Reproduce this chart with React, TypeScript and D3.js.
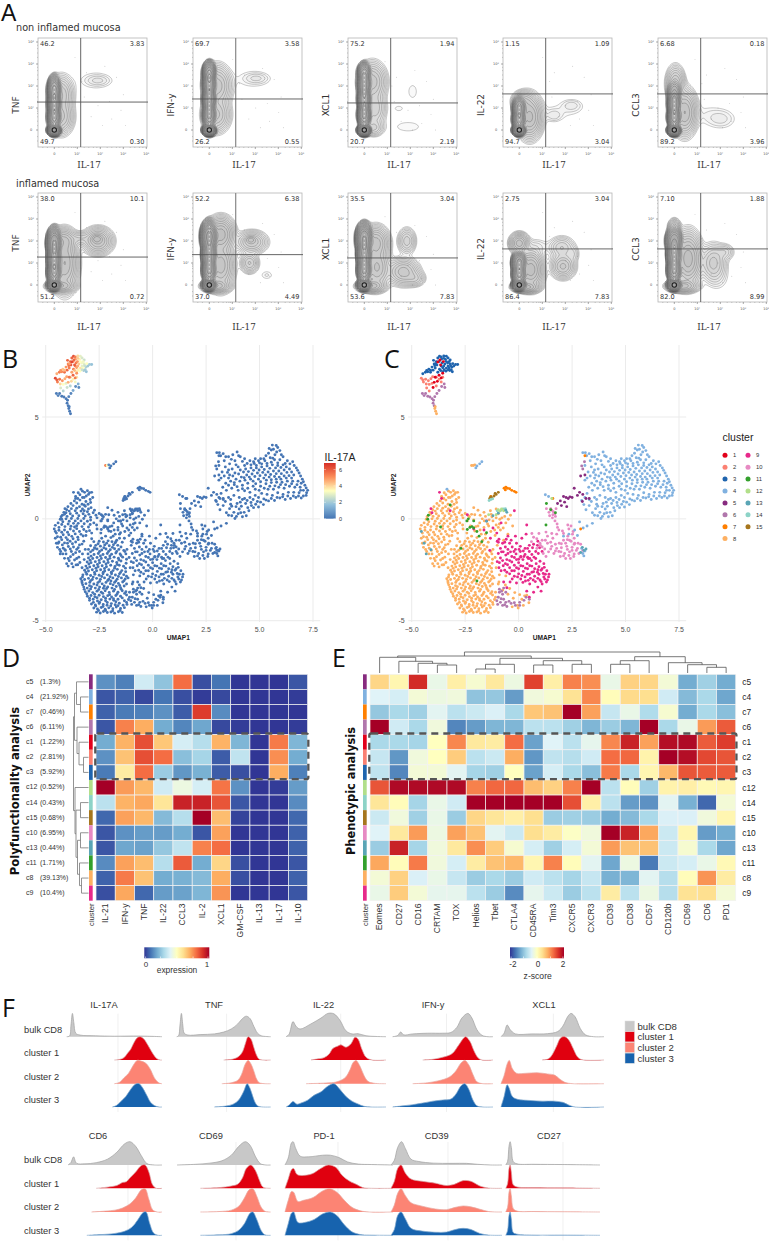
import * as d3 from 'd3';

// ---------- panel A: gating values ----------
const flowMarkers = ['TNF', 'IFN-y', 'XCL1', 'IL-22', 'CCL3'];
const flowBoxLefts = [38, 193, 348, 503, 658];
const flowTopTitle = 'non inflamed mucosa';
const flowBottomTitle = 'inflamed mucosa';
const flowQuadRest = [['46.2', '3.83', '49.7', '0.30'], ['69.7', '3.58', '26.2', '0.55'], ['75.2', '1.94', '20.7', '2.19'], ['1.15', '1.09', '94.7', '3.04'], ['6.68', '0.18', '89.2', '3.96']];
const flowQuadInfl = [['38.0', '10.1', '51.2', '0.72'], ['52.2', '6.38', '37.0', '4.49'], ['35.5', '3.04', '53.6', '7.83'], ['2.75', '3.04', '86.4', '7.83'], ['7.10', '1.88', '82.0', '8.99']];
const flowGateRest = [1.27, 1.41, 1.23, 1.64, 1.64];
const flowGateInfl = [1.27, 1.38, 1.23, 1.64, 1.64];
const flowColumnTop = [[2.1, 2.8, 2.7, 1.2, 1.4], [2.1, 2.8, 2.3, 1.1, 1.9]];
// density lobes as [log x, log y, spread x, spread y, weight]
type Blob = number[];
const tnfRest: Blob[] = [[0, 0, .15, .14, 14], [0, .6, .15, .3, 6], [0, 1.2, .15, .35, 6], [0, 1.8, .15, .35, 6], [.3, .6, .4, .6, .35], [.3, 1.6, .4, .65, .3], [1.75, 2.25, .62, .35, .016], [1.9, 2.25, .3, .14, .035]];
const ifnRest: Blob[] = [[0, 0, .15, .14, 14], [0, .7, .15, .32, 6], [0, 1.4, .15, .35, 6], [0, 2.1, .15, .35, 7], [0, 2.6, .15, .28, 5], [.3, .7, .45, .6, .35], [.35, 2, .45, .7, .4], [1.85, 2.3, .65, .35, .016], [2.05, 2.35, .3, .14, .035]];
const xclRest: Blob[] = [[0, 0, .15, .14, 14], [0, .7, .15, .32, 6], [0, 1.4, .15, .35, 5], [0, 2.1, .15, .35, 6], [0, 2.6, .15, .25, 4], [.35, 2.2, .45, .65, .4], [.45, 1, .38, .65, .2], [.4, .1, .35, .3, .15], [2.1, 1.75, .18, .3, .018], [1.9, .15, .6, .25, .016], [1.5, .98, .2, .13, .016]];
const il22Rest: Blob[] = [[0, 0, .15, .14, 14], [0, .5, .15, .25, 7], [0, 1, .15, .28, 6], [.45, .6, .4, .7, .8], [.15, 1.3, .35, .35, .3], [1.5, .65, .22, .17, .03], [2.28, 1.13, .28, .17, .03], [1.85, .85, .75, .3, .014]];
const ccl3Rest: Blob[] = [[0, 0, .15, .14, 14], [0, .6, .15, .28, 7], [0, 1.2, .15, .33, 6], [0, 1.7, .16, .3, 2], [.05, 2.1, .3, .6, .35], [.45, .8, .38, .75, .7], [2.05, .5, .4, .28, .03], [1.4, .7, .5, .35, .014]];
const tnfInfl: Blob[] = [[0, 0, .16, .14, 14], [0, .6, .16, .3, 6], [0, 1.2, .16, .38, 6], [0, 1.9, .17, .38, 8], [.3, -.05, .45, .2, .6], [.45, 1, .42, .95, .7], [.4, 2, .4, .4, .5], [1.9, 2, .47, .44, .5], [1.85, 2.1, .2, .15, .6], [1.1, 2.1, .4, .25, .12]];
const ifnInfl: Blob[] = [[0, 0, .16, .14, 16], [0, .7, .16, .32, 6], [0, 1.4, .17, .38, 6], [0, 2.2, .19, .38, 9], [.3, -.05, .45, .2, .6], [.5, .9, .42, .8, .6], [.5, 2.3, .42, .55, .9], [1.85, 1.95, .5, .38, .3], [1.75, 1, .3, .35, .22], [2.5, .45, .2, .15, .02], [1.8, 2.05, .18, .12, .4]];
const xclInfl: Blob[] = [[0, 0, .16, .14, 14], [0, .7, .16, .32, 6], [0, 1.4, .17, .38, 6], [0, 2.1, .19, .38, 8], [.3, -.05, .45, .2, .6], [.5, 1.9, .42, .55, .6], [.55, .8, .42, .7, .5], [1.85, 2, .3, .45, .18], [1.7, .6, .5, .45, .4], [2.2, .3, .35, .28, .14]];
const il22Infl: Blob[] = [[0, 0, .16, .14, 16], [0, .5, .16, .25, 6], [0, 1, .17, .28, 6], [.3, -.1, .42, .17, .8], [.5, .7, .4, .62, .9], [0, 1.9, .3, .33, .6], [.75, 1.75, .33, .22, .03], [1.9, .85, .4, .42, .35], [1.85, 1.7, .45, .4, .14], [2.35, 1.4, .22, .3, .05]];
const ccl3Infl: Blob[] = [[0, 0, .16, .14, 16], [0, .7, .16, .32, 6], [0, 1.4, .17, .38, 6], [0, 2, .19, .33, 5], [0, 2.6, .2, .3, .3], [.35, -.05, .5, .2, .6], [.6, 1.2, .42, .85, .9], [1.7, 1, .42, .65, .25], [2.2, 1.5, .33, .3, .08], [1.9, .3, .3, .35, .02]];
const flowBlobs = [[tnfRest, ifnRest, xclRest, il22Rest, ccl3Rest], [tnfInfl, ifnInfl, xclInfl, il22Infl, ccl3Infl]];
const strayDots = [[1.4, 2.6], [2.2, 2.9], [2.7, 2.4], [1.3, 1.5], [2.4, 1.3], [3, 1.6], [1.6, .6], [2.5, .5], [3.1, .2], [1.2, 2.2], [2.9, .9], [1.9, 1.1], [2.1, .2], [.9, 3.3]];
const flowTickVals = [0, 1, 2, 3, 4];
const flowMinorTicks = [-.5, -.3, .2, .4, .6, .75, .85, .92, 1.3, 1.5, 1.7, 1.85, 2.3, 2.5, 2.7, 2.85, 3.3, 3.5, 3.7, 3.85];

// ---------- panels B and C: UMAP cells, read by eye as x,y pairs ----------
const c8 = [-2.62,-4.58,-2.45,-4.62,-2.3,-4.55,-2.12,-4.6,-1.95,-4.57,-1.78,-4.63,-1.6,-4.56,-1.42,-4.6,-2.75,-4.38,-2.58,-4.42,-2.4,-4.35,-2.22,-4.44,-2.05,-4.37,-1.86,-4.41,-1.7,-4.33,-1.5,-4.4,-1.32,-4.36,-2.86,-4.18,-2.68,-4.23,-2.5,-4.15,-2.31,-4.2,-2.13,-4.24,-1.93,-4.16,-1.75,-4.22,-1.56,-4.14,-1.2,-4.2,-2.95,-4,-2.78,-3.95,-2.58,-4.03,-2.4,-3.97,-2.2,-4.02,-2,-3.94,-1.82,-4,-1.62,-3.95,-1.32,-4.02,-1.13,-3.96,-3.05,-3.8,-2.88,-3.76,-2.7,-3.83,-2.5,-3.75,-2.3,-3.82,-2.1,-3.77,-1.92,-3.84,-1.72,-3.76,-1.5,-3.8,-1.22,-3.74,-3.15,-3.58,-2.98,-3.54,-2.8,-3.62,-2.6,-3.55,-2.4,-3.6,-2.22,-3.53,-2.03,-3.61,-1.83,-3.55,-1.62,-3.6,-1.42,-3.53,-1.25,-3.58,-3.22,-3.35,-3.06,-3.4,-2.86,-3.33,-2.68,-3.4,-2.48,-3.35,-2.3,-3.41,-2.1,-3.34,-1.9,-3.4,-1.7,-3.32,-1.5,-3.38,-1.33,-3.3,-3.3,-3.14,-3.12,-3.18,-2.94,-3.12,-2.75,-3.2,-2.56,-3.13,-2.36,-3.19,-2.18,-3.12,-1.98,-3.18,-1.78,-3.12,-1.6,-3.17,-1.4,-3.1,-3.36,-2.94,-3.18,-2.98,-3,-2.92,-2.82,-2.98,-2.62,-2.92,-2.44,-2.97,-2.25,-2.9,-2.05,-2.96,-1.86,-2.9,-1.66,-2.96,-1.46,-2.9,-1.28,-2.95,-3.26,-2.75,-3.08,-2.72,-2.9,-2.78,-2.7,-2.72,-2.5,-2.77,-2.32,-2.7,-2.12,-2.75,-1.92,-2.7,-1.74,-2.76,-1.55,-2.7,-1.35,-2.74,-3.18,-2.52,-3,-2.56,-2.82,-2.5,-2.62,-2.55,-2.43,-2.5,-2.24,-2.56,-2.05,-2.5,-1.85,-2.54,-1.65,-2.48,-1.44,-2.54,-3.12,-2.32,-2.94,-2.36,-2.75,-2.3,-2.55,-2.35,-2.36,-2.3,-2.16,-2.35,-1.96,-2.28,-1.76,-2.34,-1.56,-2.28,-1.36,-2.33,-3.06,-2.12,-2.88,-2.15,-2.68,-2.1,-2.48,-2.16,-2.28,-2.1,-2.08,-2.14,-1.88,-2.08,-1.68,-2.14,-1.48,-2.07,-3,-1.92,-2.8,-1.95,-2.6,-1.9,-2.4,-1.95,-2.2,-1.9,-2,-1.94,-1.8,-1.88,-1.6,-1.93,-1.4,-1.88,-3.02,-1.72,-2.74,-1.75,-2.54,-1.7,-2.32,-1.75,-2.12,-1.7,-1.92,-1.74,-1.72,-1.68,-1.52,-1.72,-3,-1.5,-2.8,-1.54,-2.6,-1.48,-2.38,-1.53,-2.18,-1.48,-1.98,-1.52,-1.78,-1.47,-1.58,-1.5,-2.9,-1.32,-2.66,-1.3,-2.44,-1.34,-2.24,-1.28,-2.03,-1.32,-1.83,-1.27,-1.63,-1.3,-2.75,-1.12,-2.5,-1.1,-2.3,-1.14,-2.08,-1.08,-1.9,-1.12,-1.68,-1.05,-3.95,-2.32,-3.78,-2.2,-3.58,-2.26,-3.4,-2.14,-3.65,-2.02,-3.9,-2.06,-4.12,-1.94,-3.84,-1.86,-3.45,-1.88,-3.28,-1.72,-3.6,-1.66,-3.8,-1.6,-4.05,-1.72,-4.3,-1.6,-4.45,-1.4,-4.18,-1.44,-3.94,-1.36,-3.7,-1.38,-3.48,-1.42,-3.3,-1.24,-3.6,-1.14,-3.86,-1.1,-4.12,-1.18,-4.38,-1.14,-4.55,-.95,-4.3,-.9,-4.05,-.92,-3.78,-.86,-3.5,-.9,-3.25,-.84,-3.42,-.62,-3.7,-.6,-3.98,-.66,-4.25,-.66,-4.5,-.7,-4.6,-.5,-4.38,-.42,-4.1,-.38,-3.82,-.36,-3.55,-.34,-3.3,-.38,-3,-.4,-3.1,-.62,-2.85,-.7,-2.6,-.5,-2.75,-.2,-3.05,-.12,-3.35,-.1,-3.62,-.1,-3.9,-.12,-4.2,-.14,-4.42,-.2,-4.28,.1,-4,.12,-3.74,.14,-3.45,.15,-3.15,.14,-2.9,.08,-2.6,.05,-2.4,-.1,-2.25,-.35,-2.05,-.6,-1.8,-.55,-1.55,-.75,-1.3,-.62,-1.1,-.82,-1.82,-.2,-2.1,-.05,-1.6,-.1,-4.15,.32,-3.9,.38,-3.62,.4,-3.35,.38,-3.05,.35,-2.78,.3,-2.5,.26,-3.96,.6,-3.72,.65,-3.42,.6,-3.15,.62,-2.88,.55,-3.66,.88,-3.4,.92,-3.12,.85,-2.9,.8,-3.6,1.1,-3.4,1.18,-3.2,1.05,-3,1.2,-2.8,1.05,-3.28,1.36,-3.05,1.38,-2.85,1.3,-1.2,-.1,-1.05,-.3,-1.4,-.35,-.88,-.02,-.95,.25,-1.28,.22,-1.55,.12,-1.8,.18,-2.2,.22,-1.75,-.75,-.85,-.55,-.7,-1.05,-.5,-.75,-1.0,-1.3,-1.2,-1.5,-1.1,-1.9,-1.05,-2.4,-1.15,-2.9,-.95,-3.2,-.75,-3.5,-.5,-3.7,-.25,-3.9,-.05,-4.25,.15,-3.95,.38,-3.75,-.6,-2.8,-.9,-2.75];
const c8b = [-2.53,-4.5,-2.2,-4.5,-1.87,-4.52,-1.52,-4.5,-2.66,-4.28,-2.32,-4.3,-1.96,-4.28,-1.62,-4.26,-1.38,-4.24,-2.77,-4.1,-2.48,-4.09,-2.12,-4.11,-1.72,-4.07,-1.22,-4.1,-2.95,-3.9,-2.6,-3.87,-2.2,-3.9,-1.83,-3.92,-1.42,-3.88,-1.08,-3.85,-3.08,-3.68,-2.71,-3.7,-2.33,-3.66,-2.01,-3.72,-1.66,-3.69,-1.31,-3.66,-3.2,-3.46,-2.9,-3.44,-2.52,-3.47,-2.15,-3.42,-1.78,-3.47,-1.47,-3.45,-3.27,-3.24,-2.95,-3.28,-2.6,-3.25,-2.26,-3.3,-1.85,-3.24,-1.54,-3.27,-1.22,-3.2,-3.31,-3.05,-2.9,-3.04,-2.48,-3.07,-2.1,-3.03,-1.72,-3.05,-1.34,-3.04,-3.28,-2.85,-2.78,-2.86,-2.38,-2.83,-1.99,-2.84,-1.6,-2.83,-1.22,-2.82,-3.12,-2.63,-2.72,-2.63,-2.31,-2.62,-1.93,-2.62,-1.5,-2.63,-1.26,-2.6,-3.06,-2.43,-2.65,-2.42,-2.25,-2.44,-1.78,-2.42,-1.27,-2.42,-2.98,-2.22,-2.58,-2.24,-2.18,-2.22,-1.66,-2.24,-1.24,-2.18,-2.92,-2.03,-2.5,-2.04,-2.1,-2.01,-1.58,-2.02,-1.22,-1.98,-2.88,-1.83,-2.44,-1.82,-2,-1.82,-1.48,-1.8,-1.25,-1.72,-2.9,-1.62,-2.48,-1.6,-2.06,-1.6,-1.68,-1.6,-1.3,-1.6,-2.72,-1.42,-2.28,-1.42,-1.88,-1.4,-1.48,-1.38,-2.55,-1.22,-2.15,-1.2,-1.75,-1.18,-1.42,-1.15,-2.85,-.98,-2.38,-.95,-1.95,-.92,-1.55,-.95,-4.02,-2.2,-3.72,-2.36,-3.5,-2.25,-3.3,-2.4,-3.2,-2,-3.55,-1.95,-3.72,-1.75,-3.95,-1.95,-4.2,-1.72,-3.42,-1.6,-3.15,-1.5,-3.55,-1.5,-3.85,-1.48,-4.08,-1.55,-4.35,-1.5,-4.5,-1.2,-4.22,-1.28,-3.98,-1.2,-3.75,-1.22,-3.42,-1.28,-3.22,-1.1,-3.48,-1.02,-3.72,-.98,-3.98,-1.02,-4.25,-1.02,-4.45,-.88,-4.18,-.78,-3.92,-.78,-3.62,-.74,-3.35,-.76,-3.12,-.82,-2.95,-.58,-3.22,-.52,-3.55,-.48,-3.85,-.5,-4.12,-.55,-4.38,-.56,-4.55,-.32,-4.25,-.28,-3.95,-.25,-3.7,-.22,-3.48,-.22,-3.2,-.24,-2.92,-.28,-2.62,-.3,-2.9,-.06,-3.22,.02,-3.5,.02,-3.8,.02,-4.05,0,-4.32,-.02,-4.12,.22,-3.85,.25,-3.55,.28,-3.25,.25,-2.98,.22,-2.65,.18,-2.35,.15,-4.02,.45,-3.8,.5,-3.55,.52,-3.28,.48,-3,.48,-2.72,.42,-3.82,.75,-3.55,.78,-3.3,.72,-3.02,.72,-3.5,1,-3.28,1.05,-3.1,1.12,-2.92,.95,-3.48,1.28,-3.18,1.3,-2.95,1.28,-2.3,.1,-2.05,.2,-1.9,-.35,-1.7,0,-1.45,-.25,-1.25,.1,-1.05,.05,-.9,-.25,-.72,-.45,-.6,-.2];
const c8c = [-2.42,-.7,-2.2,-.85,-2.0,-.38,-1.62,-.42,-1.38,-.05,-1.12,-.55,-.95,-.42,-.78,.05,-.65,.12,-1.05,.48,-1.32,.4,-1.62,.32,-1.9,.42,-2.1,.55,-.48,-.02,-.38,.18,-.28,-.35,-.62,-3.25,-.42,-3.42,-.18,-3.62,.05,-3.72,.28,-3.78,-.92,-3.1,-1.08,-3.6,-.3,-4.32,-.02,-4.38,.22,-4.25,.48,-4.12];
const c9 = [-1.2,-.45,-1.5,-.1,-1.62,-.55,-1.32,-.95,-1.02,-.7,-.92,-1.0,-.75,-1.2,-.58,-1,-.42,-1.2,-.62,-1.38,-.85,-1.45,-.95,-1.7,-.72,-1.62,-.5,-1.5,-.3,-1.38,-.1,-1.2,.08,-1.35,-.15,-1.5,-.38,-1.62,-.6,-1.78,-.85,-1.92,-1,-2.1,-.75,-2.05,-.55,-2,-.32,-1.85,-.12,-1.72,.08,-1.6,.3,-1.45,.5,-1.3,.5,-1.6,.3,-1.75,.1,-1.88,-.1,-2,-.32,-2.12,-.52,-2.25,-.72,-2.3,-.92,-2.4,-.65,-2.52,-.42,-2.4,-.2,-2.28,0,-2.15,.2,-2,.42,-1.88,.62,-1.75,.8,-1.6,.98,-1.42,.8,-1.95,.6,-2.05,.4,-2.2,.2,-2.32,0,-2.45,-.2,-2.55,-.42,-2.7,-.2,-2.82,0,-2.7,.22,-2.58,.42,-2.45,.62,-2.32,.82,-2.2,1,-2.08,1.18,-2.2,1.1,-2.45,.9,-2.5,.7,-2.6,.5,-2.72,.3,-2.85,.1,-2.95,.32,-3.05,.55,-2.92,.75,-2.82,.95,-2.72,1.15,-2.68,1.32,-2.55,1.4,-2.85,1.22,-2.95,1,-3,.78,-3.08,1.1,-3.2,1.3,-3.1,.9,-3.35,.7,-3.6,.5,-3.85,.38,-3.55,-.1,-3.15,-.4,-3.1,-.7,-3.1,-.55,-3.38,-1,-1.1,-.15,-.85,.15,-.95,.35,-.75,.7,-1.25,.9,-1.1,.38,-.3,-2.1,-.5,-2.4,.2,-3.6,1,-3.7,1.3,-3.2,.4,-4.1,.5,-4.05,.3,-.2,.4,-.82,-.2,-.5,-.85,-1.35,-1.55,.1,-1.85,.45,-1.95,1.05,-3.55];
const c9b = [-.95,-1.15,-.65,-1.15,-.35,-1.05,-.8,-1.62,-.5,-1.7,-.22,-1.6,.02,-1.5,.22,-1.58,.42,-1.45,.65,-1.42,.88,-1.3,-.9,-2.15,-.62,-2.2,-.42,-2.05,-.2,-1.9,0,-1.98,.25,-1.85,.52,-1.95,.72,-1.88,.92,-1.7,1.1,-1.6,-.82,-2.55,-.55,-2.62,-.32,-2.55,-.1,-2.4,.1,-2.3,.32,-2.42,.52,-2.3,.75,-2.45,.95,-2.35,1.2,-2.38,-.3,-2.95,-.05,-2.85,.15,-2.78,.4,-2.72,.62,-2.62,.88,-2.62,1.05,-2.52,1.25,-2.72,1.42,-2.72,.45,-3.02,.68,-3,.9,-2.92,1.18,-2.85,1.35,-3,1.05,-3.08,.2,-3.12,.52,-3.2];
const c10 = [.6,-1.12,.85,-.98,1.1,-1.05,1.35,-.85,1.6,-.95,1.9,-1.2,2.1,-1.05,2.3,-.85,2.45,-1.1,.85,-1.45,1.1,-1.38,1.35,-1.2,1.55,-1.35,1.78,-1.45,2,-1.42,2.25,-1.35,2.5,-1.4,2.7,-1.55,1.15,-1.7,1.4,-1.62,1.65,-1.7,1.88,-1.6,2.15,-1.7,2.38,-1.62,2.6,-1.72,2.82,-1.7,1.02,-1.3,.62,-.72,.95,-.72,1.28,-.65,1.55,-.72,2.1,-.72,2.35,-.5,2.52,-.75,2.62,-1.2,2.78,-1.2,1.42,.32,1.55,.42,1.7,.25,1.58,.05,1.7,-.1,1.8,-.25,1.82,-.42,1.6,.2,1.3,.5,1.75,.5,2.05,-.6,2.42,-1.95,1.28,-1.85,2.9,-1.25,2.6,-.95,2.2,-1.95,1.95,-1.85,3.0,-1.55];
const c10b = [.7,-.9,1,-1.2,1.25,-1.05,1.5,-1.15,1.72,-1.25,2,-1.22,2.2,-1.2,2.38,-1.05,2.6,-1.25,1.22,-1.48,1.5,-1.48,1.72,-1.58,1.98,-1.62,2.28,-1.5,2.5,-1.55,2.75,-1.45,2.1,-1.82,2.35,-1.8,2.58,-1.85,1.78,-.75,2.28,-1.02,2.55,-.62,2.45,-.35,2.3,-.3,1.45,.15,1.62,.35,1.5,.5,1.72,.12,1.88,-.55];
const c4 = [3,3.25,3.18,3.1,3.3,3.2,3.55,3.05,3.75,3.15,3.95,3.28,4.1,3.05,3.35,2.85,3.1,2.62,3.6,2.7,3.85,2.85,4.3,2.95,4.55,2.85,4.8,2.95,5.05,2.95,5.3,3.1,5.45,3.45,5.6,3.62,5.78,3.6,5.95,3.35,5.72,3.15,5.5,3,6.1,3.05,6.3,2.85,6.55,2.8,6.72,2.5,6.85,2.25,7,1.95,7.12,1.65,7.25,1.4,7.18,1.15,6.95,1.02,6.7,1.05,6.45,1,6.2,.95,5.95,1.02,5.7,.9,5.42,.88,5.18,.7,4.95,.58,4.72,.55,4.5,.4,4.38,.15,4.2,.1,4,.25,3.8,.32,3.6,.5,3.45,.3,5.2,.98,4.9,.85,4.6,.8,4.35,.75,4.15,.62,3.9,.6,3.65,.72,5.1,1.25,5.35,1.2,5.6,1.15,5.85,1.28,6.1,1.2,6.35,1.3,6.6,1.3,6.85,1.28,7.05,1.4,6.9,1.55,6.65,1.55,6.4,1.6,6.15,1.5,5.9,1.55,5.65,1.45,5.4,1.45,6.8,1.85,6.55,1.85,6.3,1.85,6.05,1.8,5.8,1.8,5.55,1.78,5.3,1.72,5.05,1.6,4.8,1.45,4.55,1.3,4.3,1.38,6.6,2.15,6.38,2.12,6.15,2.1,5.92,2.05,5.7,2.08,5.45,2.05,5.2,2.0,4.95,1.95,4.7,1.85,4.45,1.75,4.2,1.65,3.95,1.58,3.7,1.5,3.45,1.4,3.2,1.25,6.4,2.45,6.15,2.4,5.9,2.35,5.65,2.35,5.4,2.3,5.15,2.28,4.9,2.25,4.65,2.2,4.4,2.15,4.15,2.05,3.9,1.95,3.65,1.85,3.42,1.75,6.1,2.65,5.85,2.62,5.6,2.65,5.35,2.6,5.1,2.55,4.85,2.5,4.6,2.5,4.35,2.45,4.1,2.4,3.85,2.25,3.6,2.15,3.35,2.1,3.1,1.9,5.7,2.9,5.95,2.9,5.25,2.85,5,2.75,4.75,2.72,3.9,2.65,3.55,2.4,3.2,2.0,6.95,1.75,3.1,1.05,3.3,.95,3.55,1.05,3.8,1.15,4.05,1.05,4.3,1,4.55,1.05,4.8,1.15,3.65,.95,2.95,.9,3.3,.65,4.1,.82,4.45,.55,4.05,.48,3.85,.02,3.55,.18,3.2,-.35,3.02,-.45,3.45,-.22,2.75,-.82,2.35,-.75,2.1,-.85,2.62,-.55,2.85,-.15,3.0,-1.7,2.95,-1.45,3.1,-1.58,3.05,-1.82,1.4,1.1,1.25,1.18];
const c4b = [3.12,3.25,3.42,3.05,3.68,2.92,4.02,3.1,4.2,2.82,4.42,2.72,4.72,2.8,4.95,2.85,5.2,2.95,5.42,3.22,5.55,3.38,5.65,3.42,5.85,3.5,5.8,3.28,5.62,2.98,6.02,3.15,6.2,2.72,6.42,2.7,6.62,2.62,6.78,2.38,6.92,2.1,7.05,1.82,7.18,1.52,7.2,1.28,7.05,1.12,6.82,1.12,6.58,1.12,6.32,1.12,6.08,1.08,5.82,1.05,5.55,1.0,5.3,.92,5.05,.82,4.82,.72,4.62,.65,4.28,.32,4.12,.3,3.92,.12,3.7,.15,6.92,1.4,6.75,1.68,6.5,1.72,6.22,1.68,5.98,1.68,5.72,1.62,5.48,1.6,5.22,1.5,4.98,1.4,4.7,1.6,4.45,1.5,4.2,1.48,4,1.4,3.82,1.68,3.55,1.65,3.28,1.55,6.5,2,6.25,2,6,1.95,5.78,1.95,5.55,1.92,5.32,1.9,5.05,1.82,4.82,1.72,4.58,1.95,4.32,1.9,4.08,1.85,3.82,1.78,3.55,2,6.5,2.3,6.28,2.28,6.02,2.22,5.78,2.22,5.52,2.18,5.28,2.15,5.02,2.12,4.78,2.08,4.52,2.05,4.28,2.02,4.02,2.2,3.75,2.1,3.5,2.28,3.25,2.3,6.25,2.55,6,2.52,5.75,2.5,5.48,2.48,5.22,2.42,4.98,2.4,4.72,2.38,4.48,2.32,4.25,2.3,4,2.55,3.72,2.45,3.4,2.55,5.85,2.75,5.55,2.78,5.35,2.72,5.1,2.7,4.85,2.62,4.6,2.65,4.3,2.62,3.4,.85,3.7,.62,3.95,.75,4.2,.95,4.42,.9,4.7,.95,4.95,1.05,3.05,.7,3.15,.45];
const c5 = [1.82,.75,2,.65,2.15,.82,2.32,1,2.1,1.1,2.4,1.08,2.5,1.05,2.22,1.05,1.95,.88,2.85,1.3,3.0,1.2,3.15,1,2.75,1.15,2.25,.6,2.6,1.5,2.9,2.1,3.1,2.15,2.98,.85,3.3,1.0];
const c6 = [-.9,-3.45,-.75,-3.7,-.95,-3.85,-.7,-3.95,-.85,-4.1,-.6,-4.1,-.75,-4.25,-.55,-4.3,-.35,-4.15,-.15,-4.25,.05,-4.1,.25,-4,.5,-3.95,-.6,-3.6,-.98,-4.2,-.7,-3.4,-.9,-3.6,.35,-3.85,.05,-4.25,2.95,2.6,3.0,2.45,3.08,2.8,-.82,-3.92,-.65,-4.22,-.45,-4.05,-.8,-3.55,-1.02,-4.02,-.2,-4.12];
const c7 = [-.68,1.5,-.6,1.55,-.52,1.5,-.42,1.48,-.32,1.4,-.2,1.35,-.12,1.3,-.62,1.42,3.1,3.1,1.6,1.0,2.9,-.5,-1.3,1.1];
const c15 = [-1.35,1,-1.25,1.02,-1.15,1.12,-1.05,1.2,-.95,1.3,-1.3,1.08,-1.1,1.25];
const c14 = [-1.38,.9,-1.3,.95,-1.22,.98,-1.0,.4,-.82,.42,-.72,.48,-.62,.5];
const c12 = [-.8,.48,-.7,.4,-.88,.38,-1.05,.2,-1.4,.2,-.95,.45,1.55,1.0];
const c11 = [-2.35,.0,-2.42,-.1,-2.1,-.1,-2.28,-.42,-2.1,-.45,-1.95,-.62,-1.85,-.85,-1.72,-1.12,-2.18,-.38,-3.65,-.4,-4.25,-.02,-4.22,.18,-3.2,.68,-2.7,-1.45,-1.95,-3.05,1.3,.75,1.5,.45,1.72,.3,-1.5,-.68,1.28,-.3,-2.4,-.52];
const c13 = [-1.2,.15,-.95,.28,-.6,.42,3.05,-1.55,2.98,-1.4,3.15,-1.48,-4.32,-1.72,-4.1,-1.52,-1.5,-.12,2.9,-1.65,-.55,.32,-4.55,-.62,-4.42,-1.2];
const c3Extra = [[-1.82,2.7],[-1.72,2.8],[-3.35,1.45]];
// top island: x, y, IL-17A expression
const islandC3 = [[-4.48,7.12,4.6],[-4.36,7.2,5.4],[-4.25,7.22,5.2],[-4.12,7.2,5.6],[-4,7.3,5.8],[-4.2,7.35,4.2],[-4.05,7.45,5],[-3.9,7.4,5.4],[-3.82,7.55,6],[-3.95,7.6,5.2],[-3.85,7.72,5.5],[-3.98,7.78,5.8],[-3.78,7.9,5.8],[-3.7,7.98,6.2],[-3.6,7.85,4.8],[-3.5,8,4],[-3.38,7.98,3],[-3.42,7.82,3.6],[-3.3,7.9,2.8],[-3.2,7.8,2.6],[-3.58,7.65,5.4],[-3.45,7.6,4.2],[-3.32,7.65,3.2],[-3.2,7.6,3],[-3.08,7.62,3.4],[-2.95,7.58,2],[-2.85,7.58,1.8],[-3.12,7.45,2.2],[-3.25,7.42,3.4],[-3.38,7.4,3.8],[-3.55,7.42,4.8],[-3.7,7.35,5.4],[-3.78,7.2,4.8],[-3.55,7.22,3.8],[-3.4,7.25,3.4],[-3.22,7.28,2],[-3.1,7.22,1.8],[-3.15,7.32,2],[-4.3,7.28,5],[-4.12,7.3,4.4],[-3.92,7.52,5.6],[-3.88,7.62,4.8],[-3.72,7.72,5.2],[-3.62,7.95,5.4],[-3.5,7.88,4.2],[-3.38,7.72,3.4],[-3.25,7.72,3.2],[-3.5,7.5,4.6],[-3.62,7.5,5.2],[-3.3,7.5,3],[-3.18,7.52,2.6],[-3.65,7.28,4.4],[-3.48,7.32,3.6],[-3.3,7.32,2.6],[-3.03,7.5,1.9]];
const islandC1 = [[-3.78,7.7,6.4],[-3.65,7.55,6],[-3.52,7.72,5],[-3.68,7.8,5.8],[-3.9,6.95,5.6],[-3.72,7.05,5.8],[-3.62,6.92,5.4],[-3.8,6.75,4],[-3.95,6.7,4.6],[-4,6.45,2.6],[-3.55,7.15,5]];
const islandC2 = [[-4.55,6.9,6.4],[-4.48,6.82,6],[-4.35,6.85,5.6],[-4.45,6.72,5.4],[-4.22,6.78,5],[-4.1,6.88,4.6],[-4.32,6.62,4],[-4.18,6.6,3.4],[-4.3,6.42,2.8],[-4.18,6.28,2.2],[-3.85,6.95,4.2],[-3.62,6.72,3.2],[-3.72,6.85,3.6],[-3.55,6.95,3.8],[-4.05,6.65,3],[-3.85,6.52,2.2],[-4.02,6.98,4.8]];
const islandC6 = [[-4.5,6.15,.2],[-4.42,6.05,.3],[-4.35,6.15,.2],[-4.25,6.02,.1],[-4.15,5.98,.2],[-4.05,5.9,.1],[-3.92,6,.3],[-3.82,6.15,.4],[-3.72,6.3,1.2],[-3.6,6.5,.6],[-3.45,6.45,.5],[-3.48,6.62,1.4],[-3.98,5.82,.1],[-4,5.68,.1],[-3.95,5.55,.1]];
const islandC8 = [[-3.92,5.42,.1],[-3.88,5.28,.1],[-3.84,5.16,.1],[-3.9,5.5,.2]];
const smallIsland = [[-2.2,2.62,5.4],[-2.12,2.62,3.4],[-2.05,2.65,.4],[-1.95,2.6,.2],[-2,2.5,.1]];
const clusterSets: number[][] = [c8, c8b, c8c, c9, c9b, c10, c10b, c4, c4b, c5, c6, c7, c15, c14, c12, c11, c13];
const clusterSetIds = [8, 8, 8, 9, 9, 10, 10, 4, 4, 5, 6, 7, 15, 14, 12, 11, 13];
const clusterIds = [1, 2, 3, 4, 5, 6, 7, 8, 9, 10, 11, 12, 13, 14, 15];
const clusterColors = ['#e2001a', '#fb8072', '#1f64ae', '#80b1e0', '#872b7f', '#b177ac', '#ff7f00', '#fdb062', '#e7298a', '#e78ac3', '#33a02c', '#b2df8a', '#5aa5b5', '#8dd3c7', '#a6761d'];
const umapXTicks = [-5, -2.5, 0, 2.5, 5, 7.5];
const umapYTicks = [-5, 0, 5];
const il17Ticks = [0, 2, 4, 6];

// ---------- panels D and E: heatmaps ----------
const rowNames = ['c5', 'c4', 'c7', 'c6', 'c1', 'c2', 'c3', 'c12', 'c14', 'c15', 'c10', 'c13', 'c11', 'c8', 'c9'];
const rowPercents = ['(1.3%)', '(21.92%)', '(0.46%)', '(6.11%)', '(1.22%)', '(2.81%)', '(5.92%)', '(0.52%)', '(0.43%)', '(0.68%)', '(6.95%)', '(0.44%)', '(1.71%)', '(39.13%)', '(10.4%)'];
const rowClusterIds = [5, 4, 7, 6, 1, 2, 3, 12, 14, 15, 10, 13, 11, 8, 9];
const polyCols = ['IL-21', 'IFN-y', 'TNF', 'IL-22', 'CCL3', 'IL-2', 'XCL1', 'GM-CSF', 'IL-13', 'IL-17', 'IL-10'];
const polyValues = [
  [.15, .12, .37, .25, .8, .04, .1, 0, 0, 0, .05],
  [.05, .07, .03, .1, .04, .01, .03, 0, 0, 0, .01],
  [.07, .11, .12, .15, .06, .88, .14, 0, 0, 0, 0],
  [.05, .77, .7, .2, .13, .19, .03, .01, 0, 0, .01],
  [.2, .69, .85, .65, .38, .32, .69, .22, 0, .78, .22],
  [.15, .66, .85, .8, .24, .29, .06, .34, 0, .75, .2],
  [.11, .56, .8, .27, .16, .21, .06, .04, 0, .7, .12],
  [1, .73, .68, .37, .44, .38, .79, .15, 0, .01, .17],
  [.33, .69, .71, .58, .93, .93, .84, .05, 0, 0, .14],
  [.08, .72, .68, .23, .32, 1, .67, .02, 0, 0, .08],
  [.05, .15, .17, .17, .2, .05, .72, 0, 0, 0, .07],
  [.05, .19, .18, .26, .34, .77, .8, 0, 0, 0, .07],
  [.14, .72, .67, .32, .83, .2, .62, .04, 0, 0, .05],
  [.07, .78, .66, .2, .21, .23, .7, .04, 0, 0, .07],
  [.04, .71, .08, .17, .18, .22, .74, 0, 0, 0, .05],
];
const phenoCols = ['Eomes', 'CD27', 'CD16', 'CRTAM', 'TOX', 'Helios', 'Tbet', 'CTLA4', 'CD45RA', 'Tim3', 'CXCR5', 'CXCR3', 'CD39', 'CD38', 'CD57', 'CD120b', 'CD69', 'CD6', 'PD1'];
const phenoValues = [
  [.62, .53, .91, .43, .55, .47, .57, .44, .87, .55, .77, .75, .43, .63, .62, .46, .2, .28, .2],
  [.4, .38, .46, .44, .45, .25, .26, .17, .45, .47, .59, .76, .51, .61, .6, .37, .23, .3, .19],
  [.26, .3, .28, .41, .33, .36, .39, .3, .65, .66, 1, .72, .35, .43, .31, .47, .2, .3, .24],
  [1, .37, .3, .45, .13, .17, .22, .22, .33, .33, .28, .22, .27, .22, 1, .3, .43, .73, .83],
  [.3, .3, .29, .5, .76, .57, .56, .8, .18, .4, .33, .42, .76, .93, .72, .97, .98, .83, .88],
  [.35, .16, .45, .5, .64, .33, .36, .7, .16, .34, .32, .37, .8, .81, .54, 1, .97, .86, .84],
  [.34, .13, .46, .46, .41, .29, .28, .5, .18, .38, .3, .24, .78, .3, .53, .68, .84, .83, .83],
  [.84, .98, .98, .98, .98, .77, .81, .81, .67, .63, .77, 1, .33, .51, .28, .54, .55, .52, .53],
  [.58, .51, .29, .43, .37, 1, 1, 1, 1, 1, .85, .55, .33, .17, .15, .41, .21, .08, .46],
  [.36, .45, .28, .43, .27, .62, .58, .55, .6, .27, .28, .27, .2, .23, .3, .39, .39, .45, .53],
  [.4, .57, .73, .44, .72, .66, .41, .36, .6, .56, .49, .45, 1, .93, .71, .36, .53, .17, .2],
  [.27, .93, .29, .45, .57, .75, .64, .47, .38, .28, .38, .46, .73, .66, .66, .36, .47, .3, .19],
  [.71, .51, .78, .45, .38, .56, .66, .68, .53, .77, .51, .41, .19, .44, .11, .36, .38, .43, .52],
  [.46, .63, .39, .43, .35, .27, .3, .27, .37, .33, .29, .35, .21, .22, .41, .32, .51, .74, .56],
  [.43, .64, .46, .42, .42, .33, .27, .14, .42, .36, .27, .33, .56, .33, .44, .32, .59, .6, .46],
];
const heatColors = ['#313695', '#4575b4', '#74add1', '#abd9e9', '#e0f3f8', '#ffffbf', '#fee090', '#fdae61', '#f46d43', '#d73027', '#a50026'];
// dendrograms: [merge height, left, right]
type Tree = string | [number, Tree, Tree];
const rowTree: Tree = [15,
  [14, [12, 'c5', [8, 'c4', 'c7']], [11.5, 'c6', [9.5, 'c1', [5, 'c2', 'c3']]]],
  [13.5, 'c12', [12.5, [8, 'c14', 'c15'], [11, [8, 'c10', 'c13'], [9, 'c11', [7, 'c8', 'c9']]]]]];
const colTree: Tree = [21,
  [17, [15.7, 'Eomes', [11.7, 'CD27', [9.7, 'CD16', [8, 'CRTAM', 'TOX']]]],
    [14.7, [8.7, [4, 'Helios', 'Tbet'], 'CTLA4'], [12.3, [8, 'CD45RA', 'Tim3'], [8.7, 'CXCR5', 'CXCR3']]]],
  [16.3, [12.3, [8.7, 'CD39', 'CD38'], 'CD57'], [10.3, 'CD120b', [8.3, 'CD69', [5.7, 'CD6', 'PD1']]]]];

// ---------- panel F: ridgelines, [position %, relative height] ----------
type Ridge = number[][];
const ridgeRowNames = ['bulk CD8', 'cluster 1', 'cluster 2', 'cluster 3'];
const ridgeColors = ['#c8c8c8', '#e0000f', '#fc8474', '#1763ae'];
const ridgeEdges = ['#a0a0a0', '#d9a0a0', '#e8a8a0', '#7ca6cc'];
const il17aRidges: Ridge[] = [
  [[0,0],[3,.03],[4.5,.5],[6,1],[7.5,.6],[9.5,.15],[14,.07],[30,.04],[50,.02],[70,.03],[85,.02],[100,0]],
  [[50,0],[55,.02],[60,.1],[64,.3],[67,.45],[70,.7],[74,.95],[77,1],[81,.9],[85,.65],[90,.3],[94,.08],[98,0],[100,0]],
  [[50,0],[55,.05],[60,.25],[65,.45],[70,.8],[74,1],[78,.97],[83,.88],[88,.6],[92,.25],[97,.03],[100,0]],
  [[48,0],[52,.06],[57,.25],[62,.45],[67,.75],[72,.98],[76,1],[80,.8],[84,.5],[88,.2],[92,.06],[97,0],[100,0]]];
const tnfRidges: Ridge[] = [
  [[0,0],[2,.04],[3.5,.5],[5,1],[6.5,.5],[8,.15],[12,.07],[25,.09],[40,.12],[50,.2],[58,.33],[65,.55],[70,.78],[74,.88],[78,.78],[82,.45],[86,.15],[90,.04],[100,0]],
  [[50,0],[60,.04],[66,.15],[70,.35],[73,.7],[76,1],[79,.9],[82,.55],[85,.2],[88,.03],[100,0]],
  [[48,0],[58,.04],[65,.15],[69,.4],[73,.85],[76,1],[79,.85],[82,.55],[85,.2],[88,.04],[100,0]],
  [[40,0],[52,.04],[60,.12],[66,.3],[71,.65],[75,1],[78,.8],[81,.45],[84,.15],[87,.03],[100,0]]];
const il22Ridges: Ridge[] = [
  [[0,0],[3,.1],[7,.65],[10,.45],[14,.33],[25,.55],[35,.8],[42,1],[48,.98],[54,.7],[60,.25],[66,.12],[72,.13],[80,.04],[90,.01],[100,0]],
  [[25,0],[32,.05],[38,.1],[43,.25],[47,.5],[52,.6],[55,.65],[60,.55],[65,.7],[69,.98],[72,.9],[76,.45],[80,.12],[86,0],[100,0]],
  [[20,0],[40,.03],[50,.07],[56,.17],[60,.3],[64,.6],[67,.9],[70,1],[74,.75],[78,.35],[82,.1],[88,.02],[100,0]],
  [[0,0],[3,.08],[7,.24],[11,.12],[15,.17],[22,.3],[28,.5],[35,.65],[42,.9],[48,1],[54,.75],[60,.45],[66,.25],[72,.13],[78,.03],[85,0],[100,0]]];
const ifnRidges: Ridge[] = [
  [[0,0],[5,.05],[8,.2],[11,.08],[20,.12],[35,.15],[50,.15],[58,.18],[64,.4],[69,.8],[75,1],[79,.8],[84,.3],[89,.06],[95,0],[100,0]],
  [[30,0],[40,.03],[48,.1],[55,.18],[60,.3],[66,.65],[71,.95],[73,1],[77,.8],[81,.4],[85,.1],[89,0],[100,0]],
  [[20,0],[35,.04],[45,.12],[52,.2],[57,.3],[63,.55],[68,.88],[72,1],[76,.8],[80,.4],[84,.08],[90,0],[100,0]],
  [[0,0],[8,.04],[20,.1],[30,.17],[40,.25],[50,.3],[58,.34],[63,.55],[68,.9],[72,1],[76,.75],[80,.3],[84,.05],[90,0],[100,0]]];
const xclRidges: Ridge[] = [
  [[0,0],[3,.15],[6,.5],[9,.3],[14,.12],[30,.12],[45,.13],[55,.22],[60,.45],[65,.88],[68,1],[72,.85],[77,.35],[82,.08],[90,0],[100,0]],
  [[40,0],[46,.05],[50,.25],[54,.6],[58,.95],[62,1],[66,.85],[70,.5],[74,.15],[78,.02],[100,0]],
  [[0,0],[3,.35],[6,.85],[8,1],[11,.65],[15,.45],[25,.45],[35,.47],[45,.42],[52,.37],[57,.2],[62,.06],[70,0],[100,0]],
  [[0,0],[3,.45],[6,.95],[8,.8],[11,.45],[16,.33],[28,.28],[40,.25],[52,.25],[60,.2],[66,.08],[72,0],[100,0]]];
const cd6Ridges: Ridge[] = [
  [[0,0],[3,.1],[6,.35],[9,.08],[18,.05],[30,.1],[42,.25],[52,.55],[60,.9],[66,1],[72,.8],[78,.4],[84,.06],[92,0],[100,0]],
  [[30,0],[42,.05],[52,.12],[58,.25],[62,.28],[66,.45],[72,.7],[78,.98],[82,1],[86,.7],[90,.15],[94,0],[100,0]],
  [[25,0],[40,.04],[50,.08],[58,.17],[66,.35],[72,.6],[78,.95],[82,1],[86,.55],[90,.1],[95,0],[100,0]],
  [[20,0],[35,.03],[50,.08],[60,.17],[68,.35],[74,.65],[80,.98],[83,1],[87,.5],[91,.1],[96,0],[100,0]]];
const cd69Ridges: Ridge[] = [
  [[0,0],[20,.03],[35,.08],[48,.18],[58,.42],[66,.8],[73,1],[78,.85],[84,.35],[89,.06],[95,0],[100,0]],
  [[25,0],[45,.03],[58,.1],[65,.18],[70,.45],[74,.85],[79,1],[84,.75],[88,.35],[92,.05],[100,0]],
  [[25,0],[45,.02],[58,.08],[66,.25],[72,.6],[77,.95],[81,1],[85,.7],[90,.2],[94,.03],[100,0]],
  [[25,0],[45,.02],[58,.07],[66,.22],[72,.5],[78,.95],[81,1],[85,.7],[90,.2],[94,.02],[100,0]]];
const pd1Ridges: Ridge[] = [
  [[0,0],[3,.3],[6,.95],[7.5,1],[10,.7],[14,.38],[22,.35],[35,.42],[42,.42],[50,.32],[58,.13],[68,.04],[80,.02],[100,0]],
  [[0,0],[3,.4],[6,.8],[8,.85],[11,.6],[15,.55],[25,.62],[33,.85],[40,1],[47,.9],[53,.55],[60,.3],[66,.17],[72,.03],[80,0],[100,0]],
  [[0,0],[3,.5],[6,.88],[8,.85],[12,.45],[17,.5],[26,.62],[34,.88],[41,1],[48,.85],[55,.5],[62,.2],[70,.05],[78,0],[100,0]],
  [[0,0],[3,.5],[6,.95],[8,1],[12,.55],[18,.55],[27,.68],[35,.92],[42,1],[48,.85],[55,.45],[62,.15],[70,.03],[78,.01],[100,0]]];
const cd39Ridges: Ridge[] = [
  [[0,0],[3,.2],[6,.75],[9.5,1],[13,.7],[18,.25],[25,.15],[38,.08],[55,.07],[68,.07],[78,.03],[90,0],[100,0]],
  [[0,0],[3,.3],[6,.85],[9,1],[13,.65],[18,.4],[28,.3],[40,.22],[50,.12],[57,.17],[65,.33],[72,.3],[80,.1],[88,.01],[100,0]],
  [[0,0],[3,.3],[6,.8],[9,1],[13,.7],[18,.4],[28,.25],[40,.13],[50,.1],[58,.2],[65,.26],[72,.22],[80,.12],[88,.02],[100,0]],
  [[0,0],[3,.25],[6,.85],[9,1],[13,.7],[18,.3],[28,.18],[40,.13],[50,.14],[58,.25],[65,.3],[72,.25],[80,.08],[88,.01],[100,0]]];
const cd27Ridges: Ridge[] = [
  [[0,0],[2,.15],[3.5,.8],[4.7,1],[6,.75],[8,.15],[12,.05],[30,.03],[60,.02],[100,0]],
  [[0,0],[2,.2],[3.5,.85],[4.7,1],[6,.7],[8,.15],[12,.06],[30,.03],[60,.02],[100,0]],
  [[0,0],[2,.2],[3.5,.85],[4.7,1],[6,.7],[8,.15],[12,.04],[30,.02],[60,.01],[100,0]],
  [[0,0],[2,.2],[3.5,.85],[4.7,1],[6,.7],[8,.12],[12,.05],[30,.01],[60,.01],[100,0]]];
const ridgeTitlesTop = ['IL-17A', 'TNF', 'IL-22', 'IFN-y', 'XCL1'];
const ridgeTitlesBottom = ['CD6', 'CD69', 'PD-1', 'CD39', 'CD27'];
const ridgesTop = [il17aRidges, tnfRidges, il22Ridges, ifnRidges, xclRidges];
const ridgesBottom = [cd6Ridges, cd69Ridges, pd1Ridges, cd39Ridges, cd27Ridges];

const SANS = 'Liberation Sans, Arial, sans-serif';
const DEJA = 'DejaVu Sans, sans-serif';
const SERIF = 'DejaVu Serif, serif';

const heatScale = d3.scaleLinear<string>().domain(heatColors.map((_, i) => i / 10)).range(heatColors);
const clusterColor = d3.scaleOrdinal<number, string>().domain(clusterIds).range(clusterColors);
const il17Color = d3.scaleLinear<string>().domain([0, 1.7, 3.4, 5.1, 6.8]).range(['#4575b4', '#91bfdb', '#ffffbf', '#fc8d59', '#d73027']);
const umapY = d3.scaleLinear().domain([-5, 5]).range([620.7, 417]);

// -------- panel A --------
const flowLevels = d3.range(19).map(i => 0.012 * Math.pow(1.5, i));
function flowContours(blobs: Blob[]) {
  const step = 1.5;
  const n = 74;
  const vals = new Float64Array(n * n);
  for (let j = 0; j < n; j++) {
    const v = (109 - 17 - j * step) / 22;
    for (let i = 0; i < n; i++) {
      const u = (i * step - 16.3) / 23;
      let s = 0;
      for (const b of blobs) {
        // the dense column falls off sharply, the faint halo and side lobes softly
        const core = b[4] >= 1;
        const shrink = !core && b[4] >= 0.05 ? 0.62 : 1;
        const dx = (u - b[0]) / (b[2] * shrink);
        const dy = (v - b[1]) / (b[3] * shrink);
        const r2 = dx * dx + dy * dy;
        s += b[4] * Math.exp(-0.5 * (core ? Math.pow(r2, 1.5) : r2));
      }
      vals[j * n + i] = s;
    }
  }
  return { n, step, shapes: d3.contours().size([n, n]).thresholds(flowLevels)(Array.from(vals)) };
}

function FlowPanel({ row, col }: { row: number; col: number }) {
  const left = flowBoxLefts[col];
  const top = row === 0 ? 38 : 193;
  const w = 109;
  const h = 109;
  const x = d3.scaleLinear().domain([0, 1]).range([left + 16.3, left + 39.3]);
  const y = d3.scaleLinear().domain([0, 1]).range([top + h - 17, top + h - 39]);
  const gate = row === 0 ? flowGateRest[col] : flowGateInfl[col];
  const quad = row === 0 ? flowQuadRest[col] : flowQuadInfl[col];
  const { step, shapes } = flowContours(flowBlobs[row][col]);
  const path = d3.geoPath(d3.geoIdentity().scale(step).translate([left - step / 2, top - step / 2]) as any);
  const gx = left + 42.7;
  const clip = `flow-${row}-${col}`;
  const xLabel = 'IL-17';
  const labelX = left + 51;
  const labelY = row === 0 ? 168 : 330;
  const ylY = row === 0 ? 105 : (col === 0 ? 243 : 249);
  return (
    <g>
      <clipPath id={clip}><rect x={left} y={top} width={w} height={h} /></clipPath>
      <g clipPath={`url(#${clip})`}>
        {strayDots.map((d, i) => (
          <circle key={i} cx={x(d[0] + (col % 2) * .12)} cy={y(d[1] - (col % 3) * .1)} r={0.45} fill="#aaa" />
        ))}
        {shapes.map((s, i) => (
          <path key={i} d={path(s as any) || ''} fill="#000" fillOpacity={0.025} stroke="#333" strokeOpacity={0.65} strokeWidth={0.4} />
        ))}
        <line x1={x(0)} x2={x(0)} y1={y(.25)} y2={y(flowColumnTop[row][col])} stroke="#fff" strokeWidth={0.8} strokeDasharray="1.5,2.5" strokeOpacity={0.8} />
        <circle cx={x(0)} cy={y(0)} r={2.2} fill="none" stroke="#222" strokeWidth={1.1} />
      </g>
      <rect x={left} y={top} width={w} height={h} fill="none" stroke="#b5b5b5" strokeWidth={0.8} />
      <line x1={gx} x2={gx} y1={top} y2={top + h} stroke={col === 1 ? '#888' : '#555'} strokeWidth={col === 1 ? 1.2 : 0.9} />
      <line x1={left - 1} x2={left + w + 1} y1={y(gate)} y2={y(gate)} stroke="#555" strokeWidth={0.9} />
      {flowTickVals.map(t => (
        <g key={t} fill="#555" fontFamily={DEJA} fontSize={3.5} textAnchor="middle">
          <line x1={x(t)} x2={x(t)} y1={top + h} y2={top + h + 2} stroke="#555" strokeWidth={0.5} />
          <line x1={left - 2} x2={left} y1={y(t)} y2={y(t)} stroke="#555" strokeWidth={0.5} />
          <text x={x(t)} y={top + h + 8}>{t === 0 ? '0' : `10${'⁰¹²³⁴'[t]}`}</text>
          <text x={left - 7} y={y(t) + 1.2}>{t === 0 ? '0' : `10${'⁰¹²³⁴'[t]}`}</text>
        </g>
      ))}
      {flowMinorTicks.map(t => (
        <g key={t} stroke="#777" strokeWidth={0.35}>
          <line x1={x(t)} x2={x(t)} y1={top + h} y2={top + h + 1} />
          <line x1={left - 1} x2={left} y1={y(t)} y2={y(t)} />
        </g>
      ))}
      <g fontFamily={DEJA} fontSize={6.6} fill="#333">
        <text x={left + 2} y={top + 8}>{quad[0]}</text>
        <text x={left + w - 2.5} y={top + 8} textAnchor="end">{quad[1]}</text>
        <text x={left + 2} y={top + h - 3.5}>{quad[2]}</text>
        <text x={left + w - 2.5} y={top + h - 3.5} textAnchor="end">{quad[3]}</text>
      </g>
      <text x={labelX} y={labelY} textAnchor="middle" fontFamily={SERIF} fontSize={8.8} fill="#333">{xLabel}</text>
      <text transform={`translate(${left - 19.5},${ylY}) rotate(-90)`} textAnchor="middle" fontFamily={DEJA} fontSize={9} fill="#333">{flowMarkers[col]}</text>
    </g>
  );
}

// -------- panels B and C --------
const chunk = (flat: number[]) => d3.range(0, flat.length - 1, 2).map(i => [flat[i], flat[i + 1]]);

function UmapPanel({ left, color }: { left: number; color: boolean }) {
  const x = d3.scaleLinear().domain([-5, 7.5]).range([left, left + 267.3]);
  const blue = il17Color(0);
  const cells: { px: number; py: number; fill: string; key: string }[] = [];
  clusterSets.forEach((set, k) => {
    chunk(set).forEach((p, i) => {
      cells.push({ px: x(p[0]), py: umapY(p[1]), fill: color ? clusterColor(clusterSetIds[k]) : blue, key: `${k}-${i}` });
    });
  });
  c3Extra.forEach((p, i) => cells.push({ px: x(p[0]), py: umapY(p[1]), fill: color ? clusterColor(4) : blue, key: `x${i}` }));
  const island = (set: number[][], id: number) => set.forEach((p, i) => cells.push({
    px: x(p[0]), py: umapY(p[1]), fill: color ? clusterColor(id) : il17Color(p[2]), key: `i${id}-${i}`,
  }));
  island(islandC6, 6); island(islandC8, 8); island(islandC3, 3); island(islandC2, 2); island(islandC1, 1);
  smallIsland.forEach((p, i) => cells.push({ px: x(p[0]), py: umapY(p[1]), fill: color ? clusterColor(i < 3 ? 8 : 4) : il17Color(p[2]), key: `s${i}` }));
  return (
    <g>
      {umapXTicks.map(t => <line key={t} x1={x(t)} x2={x(t)} y1={345} y2={622} stroke="#ebebeb" strokeWidth={1} />)}
      {umapYTicks.map(t => <line key={t} x1={left - 3.5} x2={left + 274.5} y1={umapY(t)} y2={umapY(t)} stroke="#ebebeb" strokeWidth={1} />)}
      {cells.map(c => <circle key={c.key} cx={c.px} cy={c.py} r={1.45} fill={c.fill} />)}
      {umapXTicks.map(t => (
        <text key={t} x={x(t)} y={632} textAnchor="middle" fontFamily={SANS} fontSize={7} fill="#4d4d4d">{d3.format('.1f')(t)}</text>
      ))}
      {umapYTicks.map(t => (
        <text key={t} x={left - 7} y={umapY(t) + 2.5} textAnchor="end" fontFamily={SANS} fontSize={7} fill="#4d4d4d">{t}</text>
      ))}
      <text x={x(1.2)} y={640} textAnchor="middle" fontFamily={SANS} fontSize={6.6} fontWeight="bold" fill="#222">UMAP1</text>
      <text transform={`translate(${left - 16},485) rotate(-90)`} textAnchor="middle" fontFamily={SANS} fontSize={6.6} fontWeight="bold" fill="#222">UMAP2</text>
    </g>
  );
}

function Il17Legend() {
  const y = d3.scaleLinear().domain([0, 6.8]).range([518.7, 463]);
  const stops = d3.range(0, 6.9, 0.85);
  return (
    <g>
      <defs>
        <linearGradient id="il17grad" x1="0" x2="0" y1="1" y2="0">
          {stops.map(s => <stop key={s} offset={s / 6.8} stopColor={il17Color(s)} />)}
        </linearGradient>
      </defs>
      <text x={324.5} y={461} fontFamily={SANS} fontSize={10.5} fill="#222">IL-17A</text>
      <rect x={324} y={463} width={11.7} height={55.7} fill="url(#il17grad)" />
      {il17Ticks.map(t => (
        <g key={t}>
          <line x1={324} x2={326} y1={y(t)} y2={y(t)} stroke="#fff" strokeWidth={0.4} />
          <line x1={333.5} x2={335.7} y1={y(t)} y2={y(t)} stroke="#fff" strokeWidth={0.4} />
          <text x={339} y={y(t) + 2} fontFamily={SANS} fontSize={5.5} fill="#333">{t}</text>
        </g>
      ))}
    </g>
  );
}

function ClusterLegend() {
  const y = d3.scaleLinear().domain([0, 1]).range([455.3, 467.2]);
  return (
    <g fontFamily={SANS}>
      <text x={722.5} y={441} fontSize={10.5} fill="#222">cluster</text>
      {clusterIds.map((id, i) => {
        const second = i >= 8;
        const cx = second ? 748 : 725;
        const cy = y(second ? i - 8 : i);
        return (
          <g key={id}>
            <circle cx={cx} cy={cy} r={2.5} fill={clusterColor(id)} />
            <text x={cx + 8} y={cy + 2} fontSize={5.8} fill="#333" textAnchor="start">{id}</text>
          </g>
        );
      })}
    </g>
  );
}

// -------- panels D and E --------
function layoutTree(t: Tree, leaf: (s: string) => number, out: number[][]): [number, number] {
  if (typeof t === 'string') return [leaf(t), 0];
  const [h, a, b] = t;
  const [pa, ha] = layoutTree(a, leaf, out);
  const [pb, hb] = layoutTree(b, leaf, out);
  out.push([pa, ha, pb, hb, h]);
  return [(pa + pb) / 2, h];
}

function Heatmap({ left, cols, values, showPct }: { left: number; cols: string[]; values: number[][]; showPct: boolean }) {
  const cw = showPct ? 19.24 : 19.25;
  const x = d3.scaleBand<string>().domain(cols).range([left, left + cw * cols.length]);
  const y = d3.scaleBand<string>().domain(rowNames).range([674.3, 900.7]);
  const barX = left - 7;
  const tree: number[][] = [];
  if (showPct) {
    layoutTree(rowTree, s => (y(s) as number) + y.bandwidth() / 2, tree);
  } else {
    layoutTree(colTree, s => (x(s) as number) + x.bandwidth() / 2, tree);
  }
  const dendro = d3.path();
  tree.forEach(([pa, ha, pb, hb, h]) => {
    if (showPct) {
      dendro.moveTo(88.5 - ha, pa); dendro.lineTo(88.5 - h, pa); dendro.lineTo(88.5 - h, pb); dendro.lineTo(88.5 - hb, pb);
    } else {
      dendro.moveTo(pa, 673 - ha); dendro.lineTo(pa, 673 - h); dendro.lineTo(pb, 673 - h); dendro.lineTo(pb, 673 - hb);
    }
  });
  const right = left + cw * cols.length;
  return (
    <g>
      <path d={dendro.toString()} fill="none" stroke={showPct ? '#777' : '#555'} strokeWidth={0.8} />
      {rowNames.map((r, i) => (
        <g key={r}>
          <rect x={barX} y={y(r)} width={3.7} height={y.bandwidth()} fill={clusterColor(rowClusterIds[i])} />
          {cols.map((c, j) => (
            <rect key={c} x={x(c)} y={y(r)} width={x.bandwidth()} height={y.bandwidth()} fill={heatScale(values[i][j])} stroke="#f2f2f2" strokeWidth={0.7} />
          ))}
          {showPct ? (
            <g fontFamily={SANS} fontSize={7} fill="#333">
              <text x={26} y={(y(r) as number) + 9.5}>{r}</text>
              <text x={40} y={(y(r) as number) + 9.5}>{rowPercents[i]}</text>
            </g>
          ) : (
            <text x={right + 6.5} y={(y(r) as number) + 10.6} fontFamily={SANS} fontSize={8.4} fill="#222">{r}</text>
          )}
        </g>
      ))}
      {cols.map(c => (
        <text key={c} transform={`translate(${(x(c) as number) + x.bandwidth() / 2 + 2.8},903.5) rotate(-90)`} textAnchor="end" fontFamily={SANS} fontSize={8.6} fill="#333">{c}</text>
      ))}
      <text transform={`translate(${barX + 4.6},903.5) rotate(-90)`} textAnchor="end" fontFamily={SANS} fontSize={7.6} fill="#333">cluster</text>
      <rect x={left - 0.7} y={733.5} width={right - left + 1.4} height={45.7} rx={2} fill="none" stroke="#555" strokeWidth={2.3} strokeDasharray="7,5" />
    </g>
  );
}

function Colorbar({ id, x0, x1, labels, title, titleX, titleY, fs }: { id: string; x0: number; x1: number; labels: [string, number][]; title: string; titleX: number; titleY: number; fs: number }) {
  const t = d3.scaleLinear().domain([0, 1]).range([x0, x1]);
  const ticks = [.02, .25, .5, .75, .98];
  return (
    <g fontFamily={SANS} fill="#333">
      <defs>
        <linearGradient id={id}>
          {heatColors.map((c, i) => <stop key={c} offset={i / 10} stopColor={c} />)}
        </linearGradient>
      </defs>
      <rect x={x0} y={947.3} width={x1 - x0} height={11} fill={`url(#${id})`} />
      {ticks.map(v => <line key={v} x1={t(v)} x2={t(v)} y1={956.5} y2={958.3} stroke="#fff" strokeWidth={0.6} />)}
      {labels.map(([s, px]) => <text key={s} x={px} y={966.5} textAnchor="middle" fontSize={fs}>{s}</text>)}
      <text x={titleX} y={titleY} textAnchor="middle" fontSize={fs + .4}>{title}</text>
    </g>
  );
}

// -------- panel F --------
function RidgeCell({ x0, x1, ridges, baselines, vline, title, titleX, titleY }: { x0: number; x1: number; ridges: Ridge[]; baselines: number[]; vline: number; title: string; titleX: number; titleY: number }) {
  const x = d3.scaleLinear().domain([0, 100]).range([x0, x1]);
  const h = d3.scaleLinear().domain([0, 1]).range([0, 23.3]);
  const curve = d3.curveCatmullRom.alpha(0.5);
  return (
    <g>
      <line x1={vline} x2={vline} y1={baselines[0] - 23} y2={baselines[3] + 5} stroke="#e6e6e6" strokeWidth={0.6} />
      <text x={titleX} y={titleY} textAnchor="middle" fontFamily={SANS} fontSize={9.3} fill="#333">{title}</text>
      {ridges.map((r, i) => {
        const area = d3.area<number[]>().x(d => x(d[0])).y0(baselines[i]).y1(d => baselines[i] - h(Math.max(0, d[1]))).curve(curve);
        const line = d3.line<number[]>().x(d => x(d[0])).y(d => baselines[i] - h(d[1])).curve(curve);
        return (
          <g key={i}>
            <path d={area(r) || ''} fill={ridgeColors[i]} />
            <path d={line(r) || ''} fill="none" stroke={ridgeEdges[i]} strokeWidth={0.7} />
          </g>
        );
      })}
    </g>
  );
}

const ridgeTopSpans = [[66.7, 162], [176.7, 270.7], [286, 386], [392.6, 493], [501, 604]];
const ridgeBottomSpans = [[68, 162], [177, 270.6], [285, 393], [391, 502], [505.7, 600]];
const ridgeTopLines = [118, 226.6, 340.7, 446.5, 553.4];
const ridgeBottomLines = [128, 236, 338, 448, 563];
const ridgeTopTitleX = [104, 214, 323.5, 433, 544];
const ridgeBottomTitleX = [98, 211, 324, 436.7, 549];
const ridgeTopBase = [1036.7, 1060, 1083.7, 1107];
const ridgeBottomBase = [1165, 1188.3, 1212, 1235.3];

export default function App() {
  const letter = { fontFamily: 'Open Sans, sans-serif', fontSize: 25, fill: '#111' };
  return (
    <svg width={769} height={1244} style={{ position: 'absolute', left: 0, top: 0, background: '#fff' }}>
      {/* A */}
      <text x={1} y={21} fontFamily={SANS} fontSize={23} fill="#111">A</text>
      <text x={16} y={31} fontFamily={DEJA} fontSize={9.7} fill="#333">{flowTopTitle}</text>
      <text x={16} y={187} fontFamily={DEJA} fontSize={9.7} fill="#333">{flowBottomTitle}</text>
      {[0, 1].map(row => flowMarkers.map((_, col) => <FlowPanel key={`${row}-${col}`} row={row} col={col} />))}

      {/* B, C */}
      <text x={2} y={368} {...letter}>B</text>
      <text x={384} y={368} {...letter}>C</text>
      <UmapPanel left={45.7} color={false} />
      <UmapPanel left={411.7} color={true} />
      <Il17Legend />
      <ClusterLegend />

      {/* D, E */}
      <text x={2} y={667} {...letter}>D</text>
      <text x={332} y={667} {...letter}>E</text>
      <text transform="translate(18.5,791) rotate(-90)" textAnchor="middle" fontFamily={DEJA} fontWeight="bold" fontSize={11.6} fill="#111">Polyfunctionality analysis</text>
      <text transform="translate(354.5,791) rotate(-90)" textAnchor="middle" fontFamily={DEJA} fontWeight="bold" fontSize={11.4} fill="#111">Phenotypic analysis</text>
      <Heatmap left={96} cols={polyCols} values={polyValues} showPct={true} />
      <Heatmap left={370} cols={phenoCols} values={phenoValues} showPct={false} />
      <Colorbar id="polygrad" x0={144.3} x1={209.3} labels={[['0', 146], ['1', 207]]} title="expression" titleX={177} titleY={973} fs={8} />
      <Colorbar id="phenograd" x0={510} x1={564} labels={[['-2', 513], ['0', 538], ['2', 563]]} title="z-score" titleX={537.7} titleY={978.5} fs={8.2} />

      {/* F */}
      <text x={2} y={1017} {...letter}>F</text>
      {ridgesTop.map((r, i) => (
        <RidgeCell key={i} x0={ridgeTopSpans[i][0]} x1={ridgeTopSpans[i][1]} ridges={r} baselines={ridgeTopBase} vline={ridgeTopLines[i]} title={ridgeTitlesTop[i]} titleX={ridgeTopTitleX[i]} titleY={1008} />
      ))}
      {ridgesBottom.map((r, i) => (
        <RidgeCell key={i} x0={ridgeBottomSpans[i][0]} x1={ridgeBottomSpans[i][1]} ridges={r} baselines={ridgeBottomBase} vline={ridgeBottomLines[i]} title={ridgeTitlesBottom[i]} titleX={ridgeBottomTitleX[i]} titleY={1138.5} />
      ))}
      {ridgeRowNames.map((n, i) => (
        <g key={n} fontFamily={SANS} fontSize={9.3} fill="#333">
          <text x={24} y={ridgeTopBase[i] - 3.6}>{n}</text>
          <text x={24} y={ridgeBottomBase[i] - 1.8}>{n}</text>
          <rect x={625} y={1021 + i * 10.7} width={9.5} height={10.2} fill={ridgeColors[i]} stroke="#ddd" strokeWidth={0.5} />
          <text x={637.5} y={1029.5 + i * 10.7} fontSize={9.6}>{n}</text>
        </g>
      ))}
    </svg>
  );
}
